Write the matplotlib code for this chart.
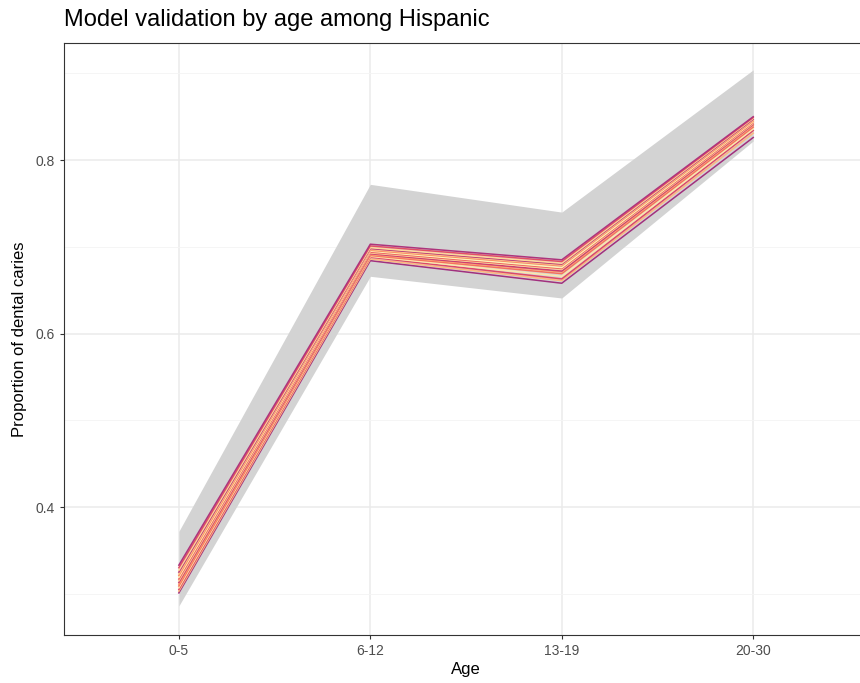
import matplotlib.pyplot as plt
import numpy as np

plt.rcParams['font.family'] = ['Liberation Sans', 'DejaVu Sans']

ages = ["0-5", "6-12", "13-19", "20-30"]

# 95% band of the simulations
band_low = [0.286, 0.666, 0.641, 0.822]
band_high = [0.372, 0.772, 0.740, 0.904]

# individual model runs
runs = [
    [0.301, 0.684, 0.658, 0.826],
    [0.303, 0.686, 0.661, 0.831],
    [0.305, 0.688, 0.663, 0.834],
    [0.307, 0.689, 0.666, 0.836],
    [0.309, 0.690, 0.669, 0.838],
    [0.311, 0.691, 0.671, 0.840],
    [0.313, 0.692, 0.672, 0.841],
    [0.315, 0.693, 0.674, 0.842],
    [0.317, 0.694, 0.675, 0.843],
    [0.319, 0.695, 0.676, 0.844],
    [0.321, 0.696, 0.678, 0.845],
    [0.323, 0.697, 0.679, 0.846],
    [0.325, 0.698, 0.680, 0.847],
    [0.327, 0.699, 0.681, 0.848],
    [0.330, 0.701, 0.683, 0.849],
    [0.333, 0.703, 0.685, 0.850],
]
run_shades = [0.45, 0.85, 0.6, 0.95, 0.7, 0.8, 0.55, 0.9,
              0.65, 0.98, 0.75, 0.88, 0.5, 0.92, 0.62, 0.48]

fig = plt.figure(figsize=(8.6, 6.83), dpi=100)
ax = fig.add_axes([0.0744, 0.0703, 0.935, 0.8668])

x = np.arange(1, len(ages) + 1)
ax.fill_between(x, band_low, band_high, color="#d3d3d3", lw=0, zorder=2)
cmap = plt.get_cmap("magma")
for vals, c in zip(runs, run_shades):
    ax.plot(x, vals, color=cmap(c), lw=1.1, zorder=3)

ax.set_xlim(0.4, 4.6)
ax.set_ylim(0.2525, 0.935)
ax.set_xticks(x)
ax.set_xticklabels(ages)
ax.set_yticks([0.4, 0.6, 0.8])
ax.set_yticks([0.3, 0.5, 0.7, 0.9], minor=True)
ax.grid(True, which="major", color="#ebebeb", lw=1.1, zorder=0)
ax.grid(True, which="minor", axis="y", color="#f4f4f4", lw=0.6, zorder=0)
ax.set_axisbelow(True)
ax.tick_params(which="major", length=3, width=0.8, color="#333333",
               labelcolor="#4d4d4d", labelsize=10)
ax.tick_params(which="minor", length=0)
for s in ax.spines.values():
    s.set_color("#333333")
    s.set_linewidth(0.8)
ax.spines["right"].set_visible(False)

ax.set_xlabel("Age", fontsize=12, labelpad=3)
ax.set_ylabel("Proportion of dental caries", fontsize=12, labelpad=6)
fig.text(0.0744, 0.970, "Model validation by age among Hispanic",
         fontsize=17, va="center", ha="left")

fig.savefig("out.png", dpi=100)
